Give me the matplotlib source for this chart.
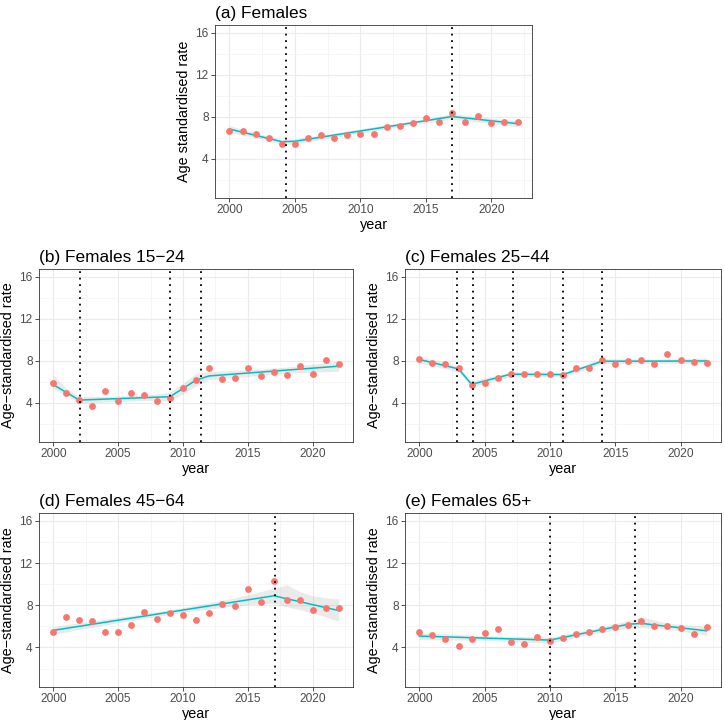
import numpy as np
import matplotlib
matplotlib.use('Agg')
from matplotlib import pyplot as plt
from matplotlib.ticker import MultipleLocator

plt.rcParams['font.family'] = ['Liberation Sans', 'DejaVu Sans']

years = list(range(2000, 2023))

# observed age-standardised rates
rate_a = [6.61, 6.67, 6.36, 5.97, 5.43, 5.43, 5.97, 6.26, 5.97, 6.26, 6.32, 6.32,
          7.03, 7.09, 7.41, 7.89, 7.54, 8.36, 7.54, 8.04, 7.41, 7.54, 7.47]
rate_b = [5.91, 4.89, 4.29, 3.71, 5.15, 4.16, 4.89, 4.70, 4.13, 4.45, 5.37, 6.17,
          7.31, 6.23, 6.39, 7.31, 6.55, 6.93, 6.64, 7.50, 6.74, 8.08, 7.66]
rate_c = [8.20, 7.82, 7.66, 7.28, 5.72, 5.91, 6.33, 6.74, 6.77, 6.77, 6.74, 6.61,
          7.31, 7.34, 8.04, 7.69, 7.94, 8.10, 7.72, 8.61, 8.10, 7.91, 7.75]
rate_d = [5.50, 6.93, 6.58, 6.48, 5.43, 5.46, 6.13, 7.38, 6.74, 7.22, 7.09, 6.64,
          7.28, 8.08, 7.95, 9.51, 8.30, 10.34, 8.46, 8.49, 7.54, 7.73, 7.76]
rate_e = [5.46, 5.21, 4.83, 4.16, 4.83, 5.40, 5.75, 4.54, 4.35, 4.99, 4.61, 4.93,
          5.31, 5.46, 5.72, 5.97, 6.10, 6.52, 6.01, 6.04, 5.82, 5.31, 5.97]

# joinpoint fit (vertices of the fitted line)
fit_years_a = [2000, 2004, 2005, 2017, 2022]
fit_a = [6.83, 5.62, 5.66, 8.02, 7.34]
fit_years_b = [2000, 2002, 2009, 2011, 2012, 2022]
fit_b = [5.72, 4.25, 4.57, 6.15, 6.55, 7.48]
fit_years_c = [2000, 2003, 2004, 2007, 2011, 2014, 2022]
fit_c = [8.12, 7.22, 5.75, 6.72, 6.68, 7.95, 7.98]
fit_years_d = [2000, 2017, 2022]
fit_d = [5.62, 8.90, 7.50]
fit_years_e = [2000, 2010, 2016, 2017, 2022]
fit_e = [5.08, 4.70, 6.20, 6.28, 5.58]

# confidence band
band_years_a = [2000, 2002, 2004, 2005, 2008, 2012, 2015, 2017, 2019, 2022]
band_lo_a = [6.50, 6.00, 5.35, 5.40, 6.05, 6.85, 7.40, 7.75, 7.50, 7.05]
band_hi_a = [7.15, 6.45, 5.85, 5.90, 6.45, 7.25, 7.80, 8.30, 7.98, 7.62]
band_years_b = [2000, 2001, 2002, 2005, 2008, 2009, 2010, 2011, 2012, 2015, 2018, 2022]
band_lo_b = [5.30, 4.70, 3.95, 4.12, 4.25, 4.15, 4.85, 5.60, 6.20, 6.50, 6.80, 7.00]
band_hi_b = [6.65, 5.35, 4.60, 4.62, 4.82, 5.00, 5.85, 6.80, 6.95, 7.15, 7.40, 7.95]
band_years_c = [2000, 2003, 2004, 2007, 2011, 2014, 2018, 2022]
band_lo_c = [7.80, 6.95, 5.45, 6.50, 6.45, 7.70, 7.78, 7.70]
band_hi_c = [8.40, 7.50, 6.05, 6.95, 6.90, 8.20, 8.15, 8.25]
band_years_d = [2000, 2005, 2010, 2014, 2015, 2016, 2017, 2018, 2019, 2020, 2021, 2022]
band_lo_d = [5.25, 6.35, 7.33, 7.95, 8.05, 8.15, 8.20, 7.85, 7.60, 7.25, 6.90, 6.45]
band_hi_d = [6.00, 6.85, 7.78, 8.70, 9.00, 9.30, 9.60, 9.95, 9.30, 8.90, 8.70, 8.60]
band_years_e = [2000, 2005, 2010, 2013, 2016, 2017, 2019, 2022]
band_lo_e = [4.75, 4.68, 4.40, 5.25, 5.80, 5.90, 5.75, 5.15]
band_hi_e = [5.40, 5.10, 4.98, 5.68, 6.55, 6.90, 6.30, 6.00]

# estimated joinpoints
joins_a = [2004.35, 2017.0]
joins_b = [2002.05, 2009.0, 2011.35]
joins_c = [2002.9, 2004.13, 2007.15, 2011.0, 2014.0]
joins_d = [2017.05]
joins_e = [2010.0, 2016.55]

titles = ['(a) Females', '(b) Females 15\u221224', '(c) Females 25\u221244',
          '(d) Females 45\u221264', '(e) Females 65+']
ylabels = ['Age standardised rate'] + ['Age\u2212standardised rate'] * 4

panels = [
    (rate_a, fit_years_a, fit_a, band_years_a, band_lo_a, band_hi_a, joins_a),
    (rate_b, fit_years_b, fit_b, band_years_b, band_lo_b, band_hi_b, joins_b),
    (rate_c, fit_years_c, fit_c, band_years_c, band_lo_c, band_hi_c, joins_c),
    (rate_d, fit_years_d, fit_d, band_years_d, band_lo_d, band_hi_d, joins_d),
    (rate_e, fit_years_e, fit_e, band_years_e, band_lo_e, band_hi_e, joins_e),
]

W, H = 724, 720
# panel boxes in pixels: left, top, right, bottom
boxes = [(215, 25, 532, 198), (39, 269, 353, 442), (405, 269, 721, 442),
         (39, 513, 353, 687), (405, 513, 721, 687)]

fig = plt.figure(figsize=(W / 100, H / 100), dpi=100)

for i, (rate, fy, fv, by, blo, bhi, joins) in enumerate(panels):
    l, t, r, b = boxes[i]
    ax = fig.add_axes([l / W, 1 - b / H, (r - l) / W, (b - t) / H])
    ax.fill_between(by, blo, bhi, color='#999999', alpha=0.2, linewidth=0, zorder=2)
    ax.plot(fy, fv, color='#00BFC4', linewidth=1.1, zorder=3)
    ax.scatter(years, rate, s=24, color='#F8766D', linewidths=0, zorder=4)
    for j in joins:
        ax.axvline(j, color='black', linestyle=(0, (1, 2.6)), linewidth=1.3, zorder=5)

    ax.set_xlim(1998.9, 2023.1)
    ax.set_ylim(0.25, 16.75)
    ax.xaxis.set_major_locator(MultipleLocator(5))
    ax.xaxis.set_minor_locator(MultipleLocator(2.5))
    ax.set_yticks([4, 8, 12, 16])
    ax.set_yticks([2, 6, 10, 14], minor=True)
    ax.grid(which='major', color='#EBEBEB', linewidth=0.8, zorder=0)
    ax.grid(which='minor', color='#F3F3F3', linewidth=0.5, zorder=0)
    ax.set_axisbelow(True)
    ax.tick_params(which='major', length=3, width=0.6, color='#333333',
                   labelsize=8.6, labelcolor='#4D4D4D', pad=1.5)
    ax.tick_params(which='minor', length=0)
    for sp in ax.spines.values():
        sp.set_color('#333333')
        sp.set_linewidth(0.6)

    ax.set_xlabel('year', fontsize=10.4, labelpad=1)
    ax.set_ylabel(ylabels[i], fontsize=10.4, labelpad=3)
    ax.set_title(titles[i], loc='left', fontsize=12.4, pad=5)

fig.savefig('out.png', dpi=100)
